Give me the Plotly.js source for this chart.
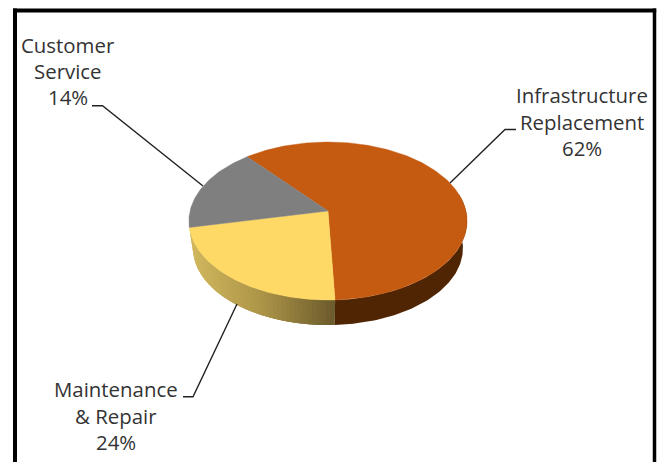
<!DOCTYPE html>
<html>
<head>
<meta charset="utf-8">
<script src="https://cdn.plot.ly/plotly-3.0.1.min.js"></script>
<style>html,body{margin:0;padding:0;background:#fff}#chart{width:660px;height:462px}</style>
</head>
<body>
<div id="chart"></div>
<script>
// Data
var categories = ["Infrastructure Replacement", "Maintenance & Repair", "Customer Service"];
var percentLabels = ["62%", "24%", "14%"];
var labelLines = [["Infrastructure", "Replacement", "62%"], ["Maintenance", "& Repair", "24%"], ["Customer", "Service", "14%"]];
var sliceShares = [60.4, 22.4, 17.2];   // angular share of each drawn slice
var topColors = ["#c55a11", "#ffd966", "#7f7f7f"];
var firstSliceAngle = 320;

// Perspective view of the pie
var cx = 328, cy = 211, rx = 138, C = 0.1266, A = -51.03;
function topPoint(deg) {
  var t = deg * Math.PI / 180, u = Math.sin(t), v = Math.cos(t), w = 1 + C * v;
  return [cx + rx * u / w, (A * v + cy) / w];
}
function basePoint(deg) {
  var p = topPoint(deg);
  return [cx + 0.97 * (p[0] - cx), 325 - 0.97 * (300 - p[1])];
}
function hex(c) { return [1, 3, 5].map(function (i) { return parseInt(c.substr(i, 2), 16); }); }
function mix(a, b, f) {
  var x = hex(a), y = hex(b);
  return "rgb(" + x.map(function (k, i) { return Math.round(k + (y[i] - k) * f); }).join(",") + ")";
}
function yellowSide(x) {
  return x < 260 ? mix("#d1b75e", "#ad9548", Math.max(0, (x - 190) / 70))
                 : mix("#ad9548", "#6b5a2c", Math.min(1, (x - 260) / 75));
}

var traces = [];
function poly(xs, ys, color) {
  traces.push({ type: "scatter", mode: "lines", x: xs, y: ys, fill: "toself", fillcolor: color,
    line: { color: color, width: 0 }, hoverinfo: "skip", showlegend: false });
}

var edges = [firstSliceAngle];
sliceShares.forEach(function (s) { edges.push(edges[edges.length - 1] + s * 3.6); });

// Side wall: orange part
var a0 = edges[1] - 100, a1 = edges[1], xs = [], ys = [], back = [], d, p;
for (d = a0; d <= a1 + 1e-6; d += 1) { p = topPoint(d); xs.push(p[0]); ys.push(p[1]); back.unshift(basePoint(d)); }
back.forEach(function (q) { xs.push(q[0]); ys.push(q[1]); });
poly(xs, ys, "#4f2504");

// Side wall: yellow part, in overlapping narrow strips for the shading
var y0 = edges[1], y1 = edges[2], strips = 48, step = (y1 - y0) / strips;
for (var i = 0; i < strips; i++) {
  var s0 = y0 + i * step, s1 = Math.min(y1, s0 + 3 * step), sm = s0 + step / 2;
  var xsS = [], ysS = [], rev = [];
  for (var e = s0; e <= s1 + 1e-9; e += step / 2) {
    var t = topPoint(e), b = basePoint(e);
    xsS.push(t[0]); ysS.push(t[1]); rev.unshift(b);
  }
  rev.forEach(function (q) { xsS.push(q[0]); ysS.push(q[1]); });
  poly(xsS, ysS, yellowSide(topPoint(sm)[0]));
}

// Top face
sliceShares.forEach(function (s, k) {
  var xs = [cx], ys = [cy], n = Math.ceil(s * 3.6);
  for (var j = 0; j <= n; j++) {
    var q = topPoint(edges[k] + (edges[k + 1] - edges[k]) * j / n);
    xs.push(q[0]); ys.push(q[1]);
  }
  xs.push(cx); ys.push(cy);
  traces.push({ type: "scatter", mode: "lines", x: xs, y: ys, fill: "toself", fillcolor: topColors[k],
    line: { color: topColors[k], width: 0.4 }, name: categories[k] + " " + percentLabels[k],
    hoverinfo: "name", showlegend: false });
});

// Label placement
var labelCentres = [582, 115.5, 68];
var labelRows = [[95.3, 122.3, 148.3], [389.3, 416.3, 442.3], [45.3, 71.3, 97.3]];
var annotations = [];
labelLines.forEach(function (lines, k) {
  lines.forEach(function (txt, r) {
    annotations.push({ xref: "x", yref: "y", x: labelCentres[k], y: labelRows[k][r], text: txt,
      showarrow: false, xanchor: "center", yanchor: "middle",
      font: { family: "'Open Sans', sans-serif", size: 20.4, color: "#333333" } });
  });
});

function leader(path) {
  return { type: "path", xref: "x", yref: "y", path: path, line: { color: "#222222", width: 1.4 } };
}
var shapes = [
  leader("M516,129.5 L505,129.5 L450,183"),
  leader("M183,396.7 L193,396.7 L237,304"),
  leader("M92,105.7 L102.5,105.7 L203,186"),
  { type: "line", xref: "paper", yref: "paper", x0: 15 / 660, x1: 15 / 660, y0: 0, y1: 1 - 8.5 / 462, line: { color: "#000", width: 4 } },
  { type: "line", xref: "paper", yref: "paper", x0: 654.5 / 660, x1: 654.5 / 660, y0: 0, y1: 1 - 8.5 / 462, line: { color: "#000", width: 3.5 } },
  { type: "line", xref: "paper", yref: "paper", x0: 13 / 660, x1: 656.2 / 660, y0: 1 - 10.5 / 462, y1: 1 - 10.5 / 462, line: { color: "#000", width: 4 } }
];

var hidden = { visible: false, fixedrange: true };
Plotly.newPlot("chart", traces, {
  width: 660, height: 462,
  margin: { l: 0, r: 0, t: 0, b: 0 },
  paper_bgcolor: "#ffffff", plot_bgcolor: "#ffffff",
  xaxis: Object.assign({ range: [0, 660] }, hidden),
  yaxis: Object.assign({ range: [462, 0] }, hidden),
  showlegend: false, annotations: annotations, shapes: shapes
}, { displayModeBar: false });
</script>
</body>
</html>
